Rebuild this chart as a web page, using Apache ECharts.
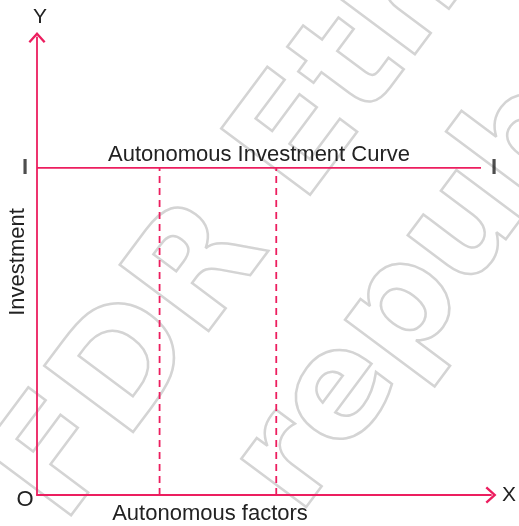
<!DOCTYPE html>
<html>
<head>
<meta charset="utf-8">
<script src="https://cdn.jsdelivr.net/npm/echarts@6/dist/echarts.min.js"></script>
<style>
  html, body { margin: 0; padding: 0; background: #fff; }
  #main { width: 519px; height: 526px; }
</style>
</head>
<body>
<div id="main"></div>
<script>
// data (axis units 0..100)
var investLevel = 71.5;            // height of the autonomous investment line
var curveX = [0, 97.8];            // start / end of the horizontal line
var factorX = [27.0, 52.7];        // dashed verticals
var axisNames = ['X', 'Y'];
var endLabels = ['I', 'I'];

var pink = '#ec1e5f';
var font = '"Liberation Sans", Arial, sans-serif';

// open chevron arrow for axis ends (17 wide, 11 tall)
var arrowPath = 'path://M0,9.4 L8.5,0 L17,9.4 L15.3,11 L8.5,3.5 L1.7,11 Z';

var chart = echarts.init(document.getElementById('main'));

var series = [
    {
        type: 'line',
        data: [[curveX[0], investLevel], [curveX[1], investLevel]],
        symbol: 'none',
        lineStyle: { color: pink, width: 1.8 },
        silent: true,
        animation: false,
        z: 5
    }
];
factorX.forEach(function (x) {
    series.push({
        type: 'line',
        data: [[x, 0], [x, investLevel]],
        symbol: 'none',
        lineStyle: { color: pink, width: 1.8, type: [7, 5] },
        silent: true,
        animation: false,
        z: 5
    });
});
// "I" labels at both ends of the line
series.push({
    type: 'scatter',
    data: [
        { value: [curveX[0], investLevel], label: { position: 'left', distance: 9 } },
        { value: [curveX[1], investLevel], label: { position: 'right', distance: 10 } }
    ],
    symbolSize: 0,
    label: {
        show: true,
        formatter: function (p) { return endLabels[p.dataIndex]; },
        fontFamily: font, fontSize: 22, fontWeight: 'bold', color: '#222'
    },
    silent: true,
    animation: false
});

// watermark text style
function mark(txt, x, y, size) {
    return {
        type: 'text', x: x, y: y, rotation: 0.93, z: -10, silent: true,
        style: { text: txt, fontFamily: '"DejaVu Sans"', fontSize: size, fontWeight: 'bold',
                 fill: 'rgba(255,255,255,0)', stroke: '#d4d4d4', lineWidth: 2.5,
                 textAlign: 'left', textVerticalAlign: 'middle' }
    };
}

var option = {
    animation: false,
    grid: { left: 37, right: 23, top: 37.5, bottom: 31 },
    xAxis: {
        type: 'value', min: 0, max: 100,
        name: axisNames[0], nameLocation: 'end', nameGap: 11,
        nameTextStyle: { fontFamily: font, fontSize: 21, color: '#222', verticalAlign: 'middle' },
        axisLine: { show: true, onZero: false, lineStyle: { color: pink, width: 1.8 },
            symbol: ['none', arrowPath], symbolSize: [17, 11] },
        axisTick: { show: false }, axisLabel: { show: false }, splitLine: { show: false }
    },
    yAxis: {
        type: 'value', min: 0, max: 100,
        name: axisNames[1], nameLocation: 'end', nameGap: 10,
        nameTextStyle: { fontFamily: font, fontSize: 21, color: '#222', align: 'center', padding: [0, 0, 0, 6] },
        axisLine: { show: true, onZero: false, lineStyle: { color: pink, width: 1.8 },
            symbol: ['none', arrowPath], symbolSize: [17, 11] },
        axisTick: { show: false }, axisLabel: { show: false }, splitLine: { show: false }
    },
    graphic: [
        mark('FDR Eth', 31, 503, 152),
        mark('repub', 268, 494, 148),
        { type: 'text', x: 259, y: 155, z: 10,
          style: { text: 'Autonomous Investment Curve', fontFamily: font, fontSize: 22, fill: '#222',
                   textAlign: 'center', textVerticalAlign: 'middle' } },
        { type: 'text', x: 210, y: 514, z: 10,
          style: { text: 'Autonomous factors', fontFamily: font, fontSize: 22, fill: '#222',
                   textAlign: 'center', textVerticalAlign: 'middle' } },
        { type: 'text', x: 18, y: 262, rotation: Math.PI / 2, z: 10,
          style: { text: 'Investment', fontFamily: font, fontSize: 22, fill: '#222',
                   textAlign: 'center', textVerticalAlign: 'middle' } },
        { type: 'text', x: 25, y: 500, z: 10,
          style: { text: 'O', fontFamily: font, fontSize: 22, fill: '#222',
                   textAlign: 'center', textVerticalAlign: 'middle' } }
    ],
    series: series
};

chart.setOption(option);
</script>
</body>
</html>
